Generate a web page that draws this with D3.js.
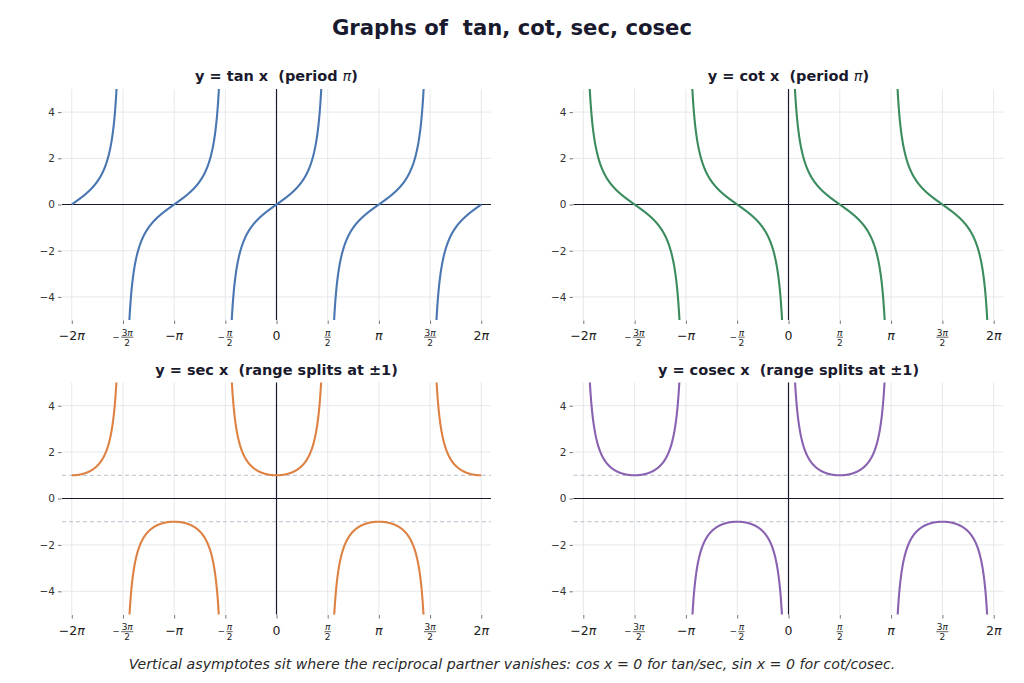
<!DOCTYPE html>
<html>
<head>
<meta charset="utf-8">
<script src="https://cdn.jsdelivr.net/npm/d3@7"></script>
<style>
  html, body { margin: 0; padding: 0; background: #ffffff; }
  svg { display: block; font-family: "DejaVu Sans", sans-serif; }
  svg text { white-space: pre; }
</style>
</head>
<body>
<svg id="chart" width="1024" height="683"></svg>
<script>
// ---- data ----
const chartTitle = "Graphs of  tan, cot, sec, cosec";
const caption = "Vertical asymptotes sit where the reciprocal partner vanishes: cos x = 0 for tan/sec, sin x = 0 for cot/cosec.";
const functionNames = ["tan", "cot", "sec", "cosec"];
const panelTitles = ["y = tan x  (period |π|)", "y = cot x  (period |π|)", "y = sec x  (range splits at ±1)", "y = cosec x  (range splits at ±1)"];
const panelColors = ["#4a76b2", "#3a8c5e", "#de8244", "#8a62b2"];
const splitLines = [[], [], [1, -1], [1, -1]];
const xTickMultiplesOfPi = [-2, -1.5, -1, -0.5, 0, 0.5, 1, 1.5, 2];
const xTickLabels = ["−2π", "−3π/2", "−π", "−π/2", "0", "π/2", "π", "3π/2", "2π"];
const yTickValues = [-4, -2, 0, 2, 4];
const xLimits = [-2 * Math.PI - 0.3, 2 * Math.PI + 0.3];
const yLimits = [-5, 5];
const sampleCount = 2400;

// the plotted functions themselves
const fns = {
  tan: x => Math.tan(x),
  cot: x => 1 / Math.tan(x),
  sec: x => 1 / Math.cos(x),
  cosec: x => 1 / Math.sin(x)
};

// ---- layout ----
const svg = d3.select("#chart");
const panelBoxes = [
  {x0: 62, x1: 491, y0: 89, y1: 320},
  {x0: 573.5, x1: 1003.5, y0: 89, y1: 320},
  {x0: 62, x1: 491, y0: 382.5, y1: 614.5},
  {x0: 573.5, x1: 1003.5, y0: 382.5, y1: 614.5}
];
const ink = "#1a1a2e";

svg.append("text")
  .attr("x", 512).attr("y", 35)
  .attr("text-anchor", "middle")
  .attr("font-size", 21.2).attr("font-weight", "bold")
  .attr("fill", ink)
  .text(chartTitle);

svg.append("text")
  .attr("x", 512).attr("y", 669)
  .attr("text-anchor", "middle")
  .attr("font-size", 14.2).attr("font-style", "italic")
  .attr("fill", "#2a2a2a")
  .text(caption);

const xs = d3.range(sampleCount + 1).map(i => -2 * Math.PI + 4 * Math.PI * i / sampleCount);

functionNames.forEach((name, k) => {
  const b = panelBoxes[k];
  const x = d3.scaleLinear().domain(xLimits).range([b.x0, b.x1]);
  const y = d3.scaleLinear().domain(yLimits).range([b.y1, b.y0]);
  const g = svg.append("g");

  const clipId = "clip" + k;
  svg.append("defs").append("clipPath").attr("id", clipId)
    .append("rect").attr("x", b.x0).attr("y", b.y0)
    .attr("width", b.x1 - b.x0).attr("height", b.y1 - b.y0);

  // grid
  g.append("g").selectAll("line").data(xTickMultiplesOfPi).join("line")
    .attr("x1", d => x(d * Math.PI)).attr("x2", d => x(d * Math.PI))
    .attr("y1", b.y0).attr("y2", b.y1)
    .attr("stroke", "#e3e5ea").attr("stroke-width", 0.9);
  g.append("g").selectAll("line").data(yTickValues).join("line")
    .attr("x1", b.x0).attr("x2", b.x1)
    .attr("y1", d => y(d)).attr("y2", d => y(d))
    .attr("stroke", "#e3e5ea").attr("stroke-width", 0.9);

  // y axis ticks + labels
  const yAxis = d3.axisLeft(y).tickValues(yTickValues).tickSize(3.5).tickPadding(3)
    .tickFormat(d => d < 0 ? "−" + Math.abs(d) : String(d));
  const ya = g.append("g").attr("transform", `translate(${b.x0 - 0.5},0)`).call(yAxis);
  ya.select(".domain").remove();
  ya.selectAll(".tick line").attr("stroke", "#666").attr("stroke-width", 0.9);
  ya.selectAll(".tick text").attr("font-size", 10.5).attr("fill", "#333")
    .attr("font-family", "DejaVu Sans");

  // x axis ticks
  const xAxis = d3.axisBottom(x).tickValues(xTickMultiplesOfPi.map(d => d * Math.PI))
    .tickSize(3.5).tickFormat("");
  const xa = g.append("g").attr("transform", `translate(0,${b.y1 + 0.5})`).call(xAxis);
  xa.select(".domain").remove();
  xa.selectAll(".tick line").attr("stroke", "#666").attr("stroke-width", 0.9);

  // x tick labels (math style)
  xTickMultiplesOfPi.forEach((m, i) => {
    const lab = xTickLabels[i];
    const cx = x(m * Math.PI);
    const t = g.append("g").attr("fill", "#222");
    if (lab.includes("/")) {
      const neg = lab.startsWith("−");
      const body = neg ? lab.slice(1) : lab;
      const [num, den] = body.split("/");
      const nt = t.append("text").attr("y", b.y1 + 15.5)
        .attr("text-anchor", "middle").attr("font-size", 9);
      num.split("").forEach(ch => nt.append("tspan")
        .attr("font-style", ch === "π" ? "italic" : "normal").text(ch));
      const fw = nt.node().getComputedTextLength() + 1;
      const minusW = 7, gap = 1.5;
      const total = neg ? minusW + gap + fw : fw;
      const start = cx - total / 2;
      const fx = neg ? start + minusW + gap + fw / 2 : cx;
      nt.attr("x", fx);
      if (neg) {
        t.append("text").attr("x", start + minusW / 2).attr("y", b.y1 + 19.8)
          .attr("text-anchor", "middle").attr("font-size", 8.5).text("−");
      }
      t.append("line").attr("x1", fx - fw / 2).attr("x2", fx + fw / 2)
        .attr("y1", b.y1 + 17.2).attr("y2", b.y1 + 17.2)
        .attr("stroke", "#222").attr("stroke-width", 0.7);
      t.append("text").attr("x", fx).attr("y", b.y1 + 25.5)
        .attr("text-anchor", "middle").attr("font-size", 9).text(den);
    } else {
      const tt = t.append("text").attr("x", cx).attr("y", b.y1 + 20)
        .attr("text-anchor", "middle").attr("font-size", 12.5);
      lab.split("").forEach(ch => tt.append("tspan")
        .attr("font-style", ch === "π" ? "italic" : "normal").text(ch));
    }
  });

  // reference lines
  g.append("g").selectAll("line").data(splitLines[k]).join("line")
    .attr("x1", b.x0).attr("x2", b.x1)
    .attr("y1", d => y(d)).attr("y2", d => y(d))
    .attr("stroke", "#b9c0cc").attr("stroke-width", 1)
    .attr("stroke-dasharray", "4,3");

  // zero axes
  g.append("line").attr("x1", b.x0).attr("x2", b.x1)
    .attr("y1", y(0)).attr("y2", y(0))
    .attr("stroke", ink).attr("stroke-width", 1.2);
  g.append("line").attr("x1", x(0)).attr("x2", x(0))
    .attr("y1", b.y0).attr("y2", b.y1)
    .attr("stroke", ink).attr("stroke-width", 1.2);

  // curve
  const f = fns[name];
  const pts = xs.map(v => [v, f(v)]);
  const line = d3.line()
    .defined(d => isFinite(d[1]) && Math.abs(d[1]) <= 12)
    .x(d => x(d[0])).y(d => y(d[1]));
  g.append("path").datum(pts)
    .attr("clip-path", `url(#${clipId})`)
    .attr("d", line)
    .attr("fill", "none").attr("stroke", panelColors[k])
    .attr("stroke-width", 2.1).attr("stroke-linejoin", "round");

  // panel title
  const cxT = (b.x0 + b.x1) / 2;
  const ty = g.append("text").attr("x", cxT).attr("y", b.y0 - 8)
    .attr("text-anchor", "middle").attr("font-size", 14.5)
    .attr("font-weight", "bold").attr("fill", ink);
  panelTitles[k].split("|").forEach((part, j) => {
    const sp = ty.append("tspan").text(part);
    if (j % 2 === 1) sp.attr("font-style", "italic").attr("font-weight", "normal");
  });
});
</script>
</body>
</html>
